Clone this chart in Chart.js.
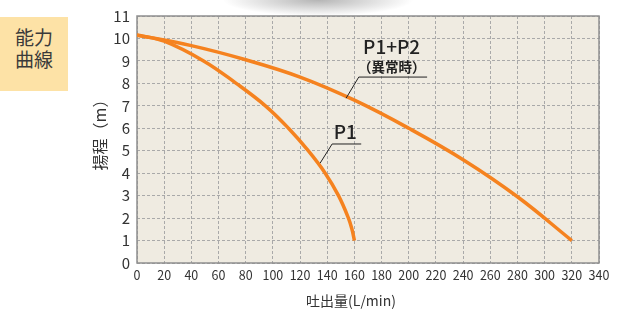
<!DOCTYPE html>
<html lang="ja">
<head>
  <meta charset="UTF-8" />
  <title>能力曲線</title>
  <script src="https://cdn.jsdelivr.net/npm/chart.js"></script>
  <style>
    body {
      margin: 0;
      background: #fff;
      font-family: "Noto Sans CJK JP", sans-serif;
    }
    #wrap {
      position: relative;
      width: 619px;
      height: 313px;
      overflow: hidden;
    }
    #shade {
      position: absolute;
      left: 0; top: 0;
      width: 619px; height: 40px;
      background: radial-gradient(ellipse 95px 16px at 318px 0px, rgba(90,90,90,0.45), rgba(255,255,255,0));
    }
    #badge {
      position: absolute;
      left: 0; top: 17px;
      width: 68px; height: 74px;
      background: #fde2a6;
      color: #3a3a3a;
      font-size: 19px;
      line-height: 22px;
      text-align: center;
      padding-top: 9px;
      box-sizing: border-box;
    }
    canvas {
      position: absolute;
      left: 0; top: 0;
    }
  </style>
</head>
<body>
  <div id="wrap">
    <div id="shade"></div>
    <div id="badge">能力<br>曲線</div>
    <canvas id="chart" width="619" height="313"></canvas>
  </div>

  <script>
    // 吐出量 (L/min) と 揚程 (m)
    const flowP1 = [0, 20, 49, 73, 94.5, 111.5, 126, 138.5, 148.3, 155.6, 158.2, 160];
    const headP1 = [10.15, 9.88, 9.0, 8.0, 7.0, 6.0, 5.0, 4.0, 3.0, 2.0, 1.5, 1.0];

    const flowP12 = [0, 40, 80, 120, 160, 200, 240, 280, 320];
    const headP12 = [10.15, 9.68, 9.05, 8.28, 7.25, 6.0, 4.6, 2.95, 1.0];

    const xMax = 340, xStep = 20;
    const yMax = 11, yStep = 1;

    const toPoints = (xs, ys) => xs.map((x, i) => ({ x: x, y: ys[i] }));

    const orange = '#f5821f';

    // 背景・枠線・ラベル
    const decor = {
      id: 'decor',
      beforeDraw(chart) {
        const { ctx, chartArea: a } = chart;
        ctx.save();
        ctx.fillStyle = '#efebe1';
        ctx.fillRect(a.left, a.top, a.right - a.left, a.bottom - a.top);
        ctx.restore();
      },
      beforeDatasetsDraw(chart) {
        const { ctx, chartArea: a } = chart;
        ctx.save();
        ctx.strokeStyle = '#8f8f8f';
        ctx.lineWidth = 1.5;
        ctx.strokeRect(a.left, a.top, a.right - a.left, a.bottom - a.top);
        ctx.restore();
      },
      afterDatasetsDraw(chart) {
        const { ctx, scales: { x, y } } = chart;
        const px = v => x.getPixelForValue(v);
        const py = v => y.getPixelForValue(v);
        ctx.save();
        // 引出線
        ctx.strokeStyle = '#222';
        ctx.lineWidth = 1;
        ctx.beginPath();
        ctx.moveTo(px(153.9), py(7.34));
        ctx.lineTo(px(163.2), py(8.28));
        ctx.lineTo(px(213.5), py(8.28));
        ctx.moveTo(px(134.8), py(4.45));
        ctx.lineTo(px(143.6), py(5.3));
        ctx.lineTo(px(165), py(5.3));
        ctx.stroke();

        ctx.fillStyle = '#222';
        ctx.textAlign = 'center';
        ctx.textBaseline = 'alphabetic';
        ctx.font = '500 19px "Noto Sans CJK JP"';
        ctx.fillText('P1+P2', px(187.4), py(9.29));
        ctx.fillText('P1', px(153.3), py(5.53));
        ctx.font = 'bold 13.5px "Noto Sans CJK JP"';
        ctx.fillText('（異常時）', px(187.4), py(8.49));

        // 軸タイトル
        ctx.fillStyle = '#333';
        ctx.textBaseline = 'middle';
        ctx.font = '14px "Noto Sans CJK JP"';
        ctx.fillText('吐出量(L/min)', 351, 301);
        ctx.font = '16px "Noto Sans CJK JP"';
        ctx.translate(100, 131);
        ctx.rotate(-Math.PI / 2);
        ctx.fillText('揚程（m）', 0, 0);
        ctx.restore();
      }
    };

    const ctx = document.getElementById('chart').getContext('2d');
    new Chart(ctx, {
      type: 'line',
      data: {
        datasets: [
          {
            label: 'P1+P2',
            data: toPoints(flowP12, headP12),
            borderColor: orange,
            borderWidth: 3.5,
            pointRadius: 0,
            tension: 0.4,
            fill: false
          },
          {
            label: 'P1',
            data: toPoints(flowP1, headP1),
            borderColor: orange,
            borderWidth: 3.5,
            pointRadius: 0,
            tension: 0.4,
            fill: false
          }
        ]
      },
      options: {
        responsive: false,
        animation: false,
        layout: { padding: { left: 0, right: 20, top: 16, bottom: 0 } },
        plugins: {
          legend: { display: false },
          tooltip: { enabled: false }
        },
        scales: {
          x: {
            type: 'linear',
            min: 0,
            max: xMax,
            afterFit: s => { s.height = 50; },
            ticks: {
              stepSize: xStep,
              autoSkip: false,
              maxRotation: 0,
              padding: 5,
              color: '#333',
              font: { family: 'Noto Sans CJK JP', size: 12.5 }
            },
            grid: { color: '#a9a9a9', drawTicks: false, lineWidth: 1 },
            border: { display: false, dash: [3, 2] }
          },
          y: {
            min: 0,
            max: yMax,
            afterFit: s => { s.width = 137; },
            ticks: {
              stepSize: yStep,
              padding: 7,
              color: '#333',
              font: { family: 'Noto Sans CJK JP', size: 15 }
            },
            grid: { color: '#a9a9a9', drawTicks: false, lineWidth: 1 },
            border: { display: false, dash: [3, 2] }
          }
        }
      },
      plugins: [decor]
    });
  </script>
</body>
</html>
